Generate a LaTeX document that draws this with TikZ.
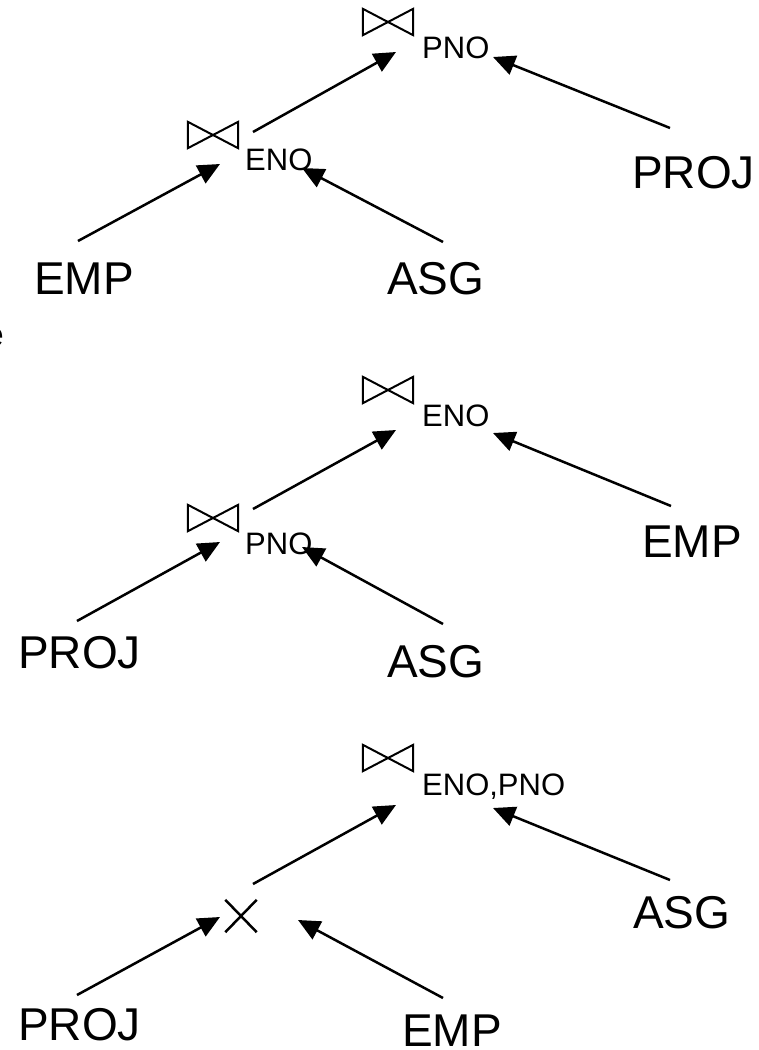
\documentclass[tikz,border=0pt]{standalone}
\usepackage{fontspec}
\setmainfont{Liberation Sans}
\usetikzlibrary{arrows.meta}

\tikzset{
  rel/.style={inner sep=0pt, anchor=base west, font=\fontsize{46}{50}\selectfont},
  attr/.style={inner sep=0pt, anchor=base west, font=\fontsize{31}{34}\selectfont},
  jointie/.style={inner sep=0pt, minimum width=50pt, minimum height=26pt},
  arr/.style={line width=2.5pt, -{Triangle[length=22pt,width=20pt]}},
}

\begin{document}
\begin{tikzpicture}[x=1pt,y=-1pt]
    \useasboundingbox (0,0) rectangle (759,1050);
    % cut-off text at the left margin
    \node[inner sep=0pt, anchor=base east, font=\fontsize{34}{36}\selectfont] (cut) at (4,346) {e};

    % first order: (EMP join ASG) join PROJ
    \node[jointie] (j1a) at (388,22)  {};  \node[attr] (p1) at (422,58)  {PNO};
    \node[jointie] (j1b) at (213,135) {};  \node[attr] (e1) at (245,170) {ENO};
    \node[rel] (proj1) at (632,188) {PROJ};
    \node[rel] (emp1)  at (34,294)  {EMP};
    \node[rel] (asg1)  at (387,294) {ASG};
    \draw[arr] ([shift={(40,-3)}]j1b.center)    -- ([shift={(8,30)}]j1a.center);
    \draw[arr] ([shift={(38,-60)}]proj1.base west) -- ([shift={(105,35)}]j1a.center);
    \draw[arr] ([shift={(44,-53)}]emp1.base west)  -- ([shift={(7,29)}]j1b.center);
    \draw[arr] ([shift={(56,-52)}]asg1.base west)  -- ([shift={(89,33)}]j1b.center);

    % second order: (PROJ join ASG) join EMP
    \node[jointie] (j2a) at (388,390) {};  \node[attr] (e2) at (422,426) {ENO};
    \node[jointie] (j2b) at (213,518) {};  \node[attr] (p2) at (245,554) {PNO};
    \node[rel] (emp2)  at (642,557) {EMP};
    \node[rel] (proj2) at (18,668)  {PROJ};
    \node[rel] (asg2)  at (387,677) {ASG};
    \draw[arr] ([shift={(40,-9)}]j2b.center)       -- ([shift={(8,40)}]j2a.center);
    \draw[arr] ([shift={(29,-51)}]emp2.base west)  -- ([shift={(105,43)}]j2a.center);
    \draw[arr] ([shift={(59,-47)}]proj2.base west) -- ([shift={(7,24)}]j2b.center);
    \draw[arr] ([shift={(56,-53)}]asg2.base west)  -- ([shift={(89,29)}]j2b.center);

    % third order: (PROJ x EMP) join ASG
    \node[jointie] (j3) at (388,758) {};  \node[attr] (ep3) at (422,795) {ENO,PNO};
    \node[inner sep=0pt, minimum width=31pt, minimum height=32pt] (x3) at (241,916) {};
    \node[rel] (asg3)  at (633,928)  {ASG};
    \node[rel] (proj3) at (18,1040)  {PROJ};
    \node[rel] (emp3)  at (402,1046) {EMP};
    \draw[arr] ([shift={(12,-32)}]x3.center)       -- ([shift={(8,47)}]j3.center);
    \draw[arr] ([shift={(37,-48)}]asg3.base west)  -- ([shift={(105,50)}]j3.center);
    \draw[arr] ([shift={(59,-45)}]proj3.base west) -- ([shift={(-21,1)}]x3.center);
    \draw[arr] ([shift={(41,-48)}]emp3.base west)  -- ([shift={(57,4)}]x3.center);

    % join and product symbols
    \foreach \j in {j1a,j1b,j2a,j2b,j3}
        \draw[line width=2pt] (\j.north west) -- (\j.south west) -- (\j.north east) -- (\j.south east) -- cycle;
    \draw[line width=2.5pt] (x3.north west) -- (x3.south east) (x3.north east) -- (x3.south west);
\end{tikzpicture}
\end{document}
